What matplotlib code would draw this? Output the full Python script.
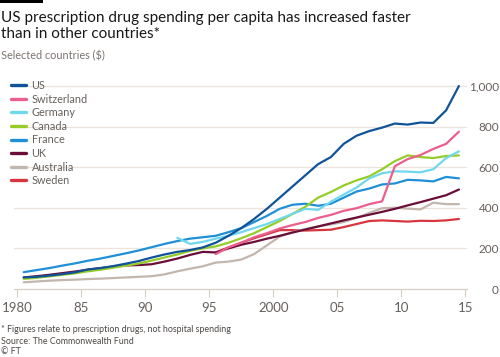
import matplotlib
matplotlib.use("Agg")
import matplotlib.pyplot as plt
from matplotlib.patches import Rectangle
import numpy as np

plt.rcParams['font.family'] = ['Lato', 'DejaVu Sans']

years = list(range(1980, 2015))
years_de = list(range(1992, 2015))
years_ch = list(range(1995, 2015))
years_se = list(range(1995, 2015))

us = [57, 60, 66, 73, 82, 96, 103, 113, 125, 138, 155, 170, 183, 192, 205, 228, 262, 300, 345, 395,
      450, 505, 560, 615, 650, 715, 755, 778, 795, 815, 810, 820, 818, 880, 1000]
france = [83, 93, 103, 115, 126, 139, 150, 163, 176, 190, 206, 222, 236, 248, 255, 262, 280, 300, 330, 360,
          395, 415, 420, 410, 420, 450, 480, 495, 515, 520, 538, 535, 530, 552, 545]
canada = [50, 55, 62, 70, 77, 87, 95, 105, 115, 126, 140, 155, 170, 188, 200, 210, 228, 250, 275, 305,
          335, 370, 405, 450, 478, 510, 535, 555, 590, 630, 658, 650, 645, 655, 658]
uk = [57, 63, 70, 78, 86, 95, 103, 110, 116, 118, 122, 135, 150, 168, 183, 180, 200, 218, 232, 248,
      262, 278, 293, 308, 323, 338, 352, 366, 380, 395, 412, 428, 445, 462, 490]
australia = [33, 37, 41, 44, 46, 49, 51, 54, 57, 60, 63, 72, 87, 100, 112, 130, 135, 145, 172, 215,
             258, 280, 295, 308, 318, 330, 350, 375, 398, 400, 396, 392, 425, 418, 418]
germany = [252, 222, 232, 248, 262, 280, 300, 320, 345, 370, 395, 390, 430, 465, 500, 545, 570, 580,
           578, 575, 590, 645, 678]
switzerland = [172, 205, 228, 255, 275, 298, 315, 330, 350, 365, 385, 398, 418, 432, 605, 640, 660,
               690, 715, 775]
sweden = [180, 205, 228, 250, 270, 290, 290, 288, 290, 292, 305, 320, 335, 338, 335, 332, 336, 335,
          338, 345]

series = [
    ("US", years, us, "#0f5499"),
    ("Switzerland", years_ch, switzerland, "#eb5e8d"),
    ("Germany", years_de, germany, "#6fd8ec"),
    ("Canada", years, canada, "#96cc28"),
    ("France", years, france, "#1f8fd6"),
    ("UK", years, uk, "#6a0d37"),
    ("Australia", years, australia, "#c2b6ad"),
    ("Sweden", years_se, sweden, "#d7363f"),
]

y_ticks = [0, 200, 400, 600, 800, 1000]
y_labels = ["0", "200", "400", "600", "800", "1,000"]
x_ticks = [1980, 1985, 1990, 1995, 2000, 2005, 2010, 2015]
x_labels = ["1980", "85", "90", "95", "2000", "05", "10", "15"]

W, H = 500, 357
fig = plt.figure(figsize=(W / 100, H / 100), dpi=100)
fig.patch.set_facecolor("white")

ax_left, ax_right = 14, 467
ax_bottom, ax_top = 289, 80
ax = fig.add_axes([ax_left / W, 1 - ax_bottom / H, (ax_right - ax_left) / W, (ax_bottom - ax_top) / H])
ax.set_facecolor("none")

px_per_year = 12.8
x0 = 1980 - (17.3 - ax_left) / px_per_year
x1 = 1980 + (ax_right - 17.3) / px_per_year
ax.set_xlim(x0, x1)
px_per_unit = (289 - 86) / 1000
ax.set_ylim(0, (ax_bottom - ax_top) / px_per_unit)

for name, xs, ys, col in reversed(series):
    ax.plot(np.array(xs) + 0.5, ys, color=col, lw=1.6, solid_capstyle="round",
            solid_joinstyle="round", label=name, zorder=3)

for v in y_ticks[1:]:
    ax.axhline(v, color="#ece4dc", lw=0.9, zorder=1)

for s in ["top", "left", "right"]:
    ax.spines[s].set_visible(False)
ax.spines["bottom"].set_color("#d6cdc4")
ax.spines["bottom"].set_linewidth(0.9)

ax.set_xticks(x_ticks)
ax.set_xticklabels(x_labels)
ax.tick_params(axis="x", length=6, width=0.8, color="#d6cdc4", labelsize=9.5,
               labelcolor="#66605c", pad=3)

ax.yaxis.tick_right()
ax.set_yticks(y_ticks)
ax.set_yticklabels(y_labels)
ax.tick_params(axis="y", length=0, labelsize=8.5, labelcolor="#66605c", pad=23)
for lab in ax.get_yticklabels():
    lab.set_horizontalalignment("right")

handles, labels = ax.get_legend_handles_labels()
handles = handles[::-1]
labels = labels[::-1]
leg = fig.legend(handles, labels, loc="upper left", bbox_to_anchor=(11 / W, 1 - 80 / H),
                 frameon=False, fontsize=7.8, handlelength=1.4, handletextpad=0.5,
                 labelspacing=0.24, borderaxespad=0, borderpad=0)
for line in leg.get_lines():
    line.set_linewidth(2.4)
for t in leg.get_texts():
    t.set_color("#66605c")

fig.patches.append(Rectangle((0, 1 - 3 / H), 43 / W, 3 / H, transform=fig.transFigure,
                             facecolor="#000000", edgecolor="none"))

fig.text(1 / W, 1 - 18 / H, "US prescription drug spending per capita has increased faster",
         fontsize=11, color="#1a1817", va="center", ha="left")
fig.text(1 / W, 1 - 34 / H, "than in other countries*",
         fontsize=11, color="#1a1817", va="center", ha="left")
fig.text(1 / W, 1 - 56 / H, "Selected countries ($)", fontsize=7.8, color="#7a7470",
         va="center", ha="left")

fig.text(1 / W, 1 - 329 / H, "* Figures relate to prescription drugs, not hospital spending",
         fontsize=6.4, color="#4d4845", va="center", ha="left")
fig.text(1 / W, 1 - 341 / H, "Source: The Commonwealth Fund",
         fontsize=6.4, color="#4d4845", va="center", ha="left")
fig.text(1 / W, 1 - 352 / H, "\u00a9 FT",
         fontsize=6.4, color="#4d4845", va="center", ha="left")

fig.savefig("out.png", dpi=100, facecolor="white")
